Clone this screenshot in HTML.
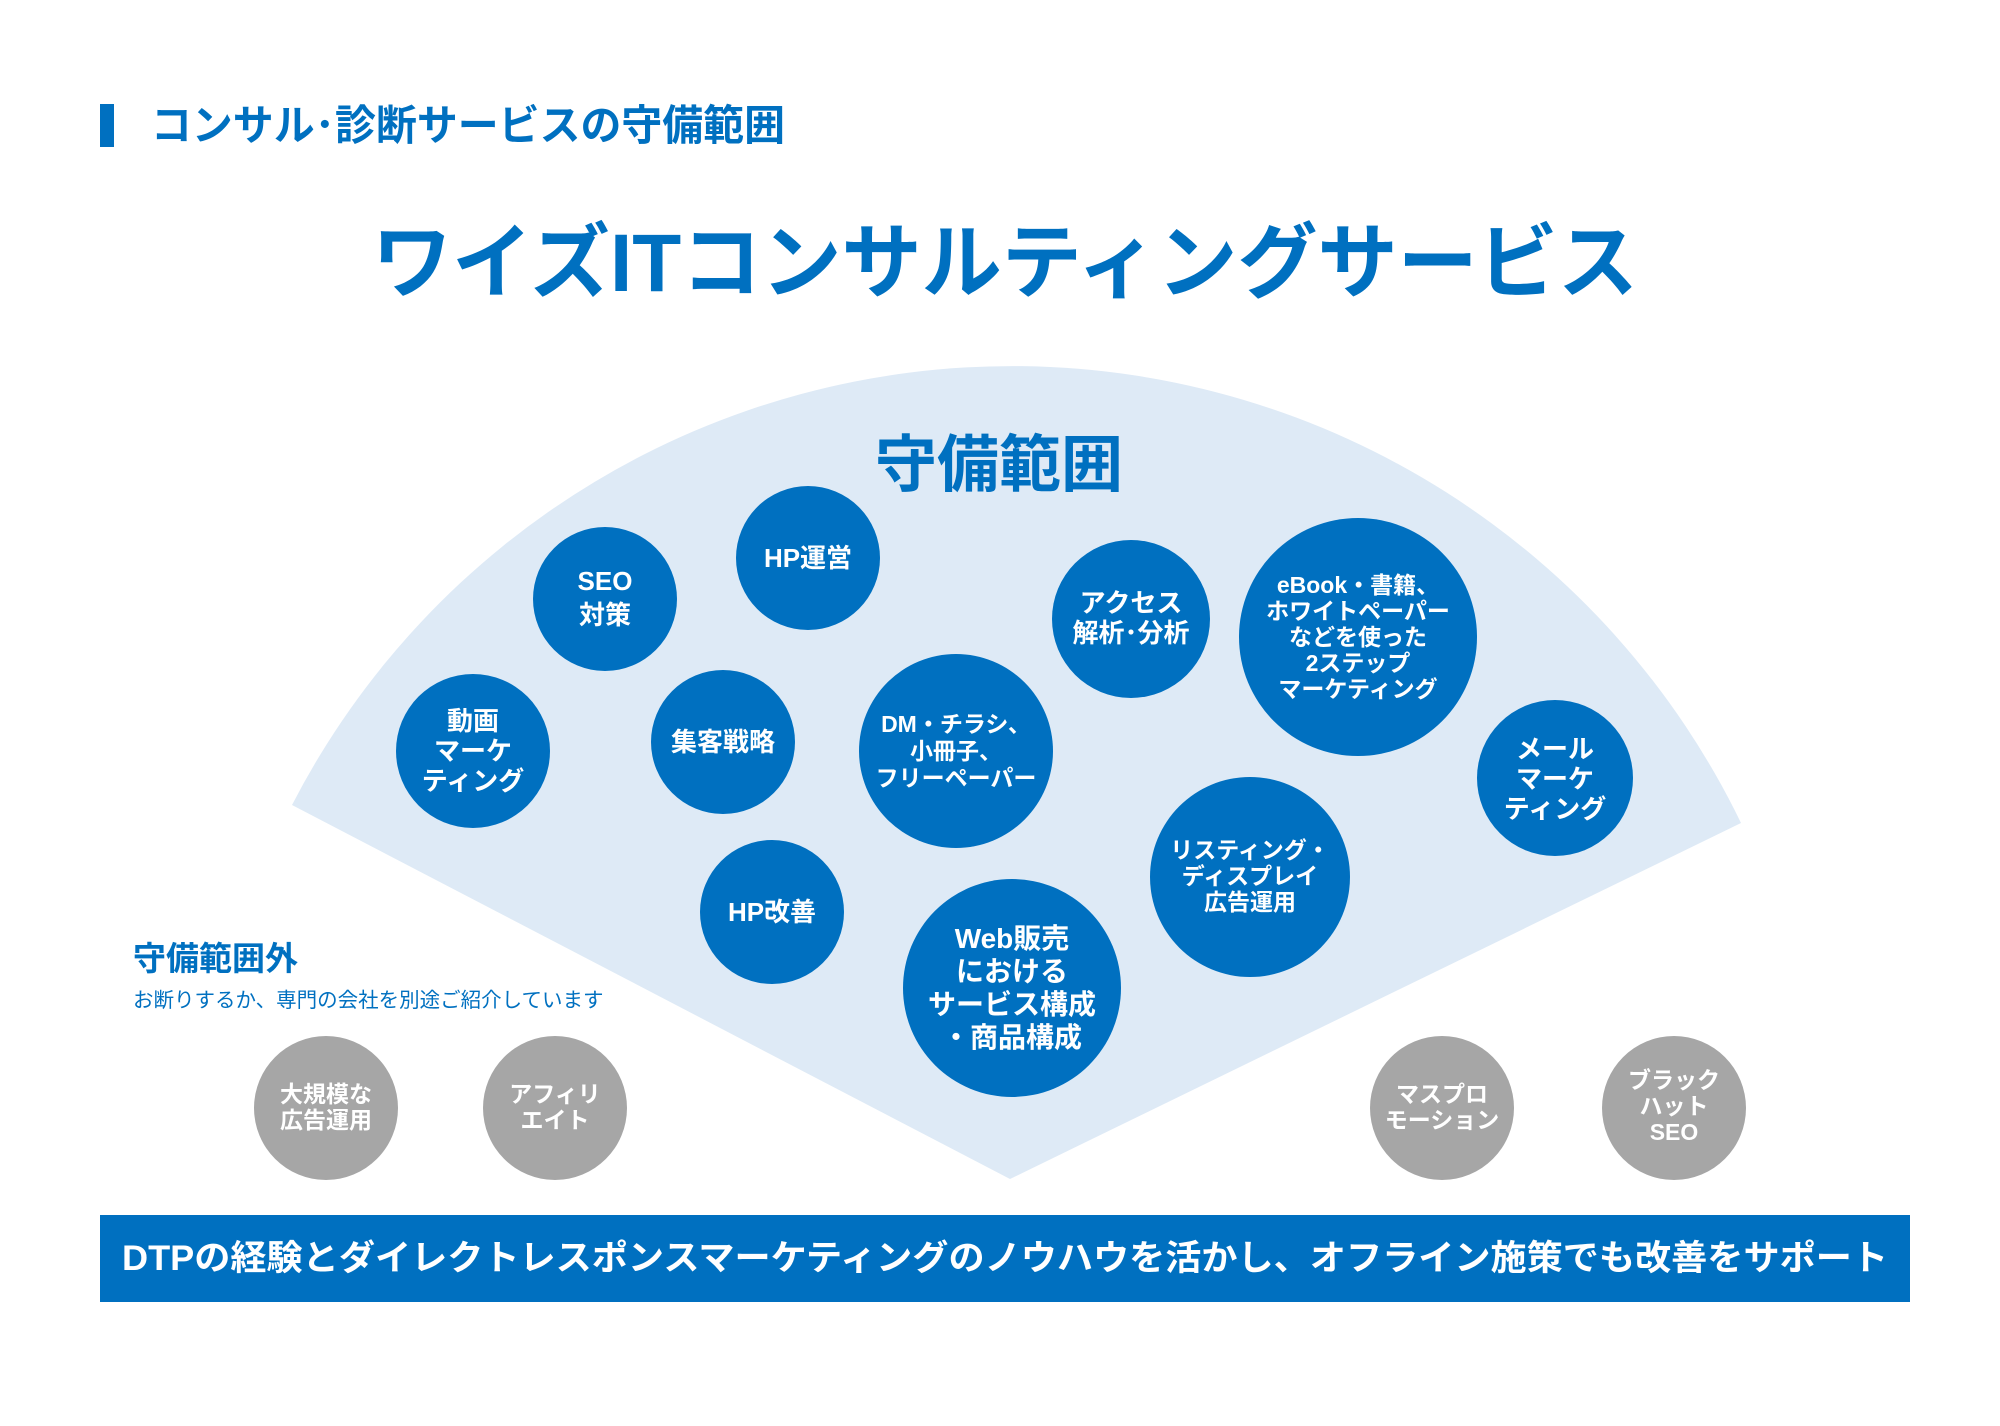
<!DOCTYPE html>
<html><head><meta charset="utf-8"><style>
html,body{margin:0;padding:0;background:#fff;}
svg{display:block;}
text{font-family:"Liberation Sans","Noto Sans CJK JP",sans-serif;font-weight:bold;}
</style></head><body>
<svg width="2000" height="1426" viewBox="0 0 2000 1426" xmlns="http://www.w3.org/2000/svg">
<rect x="0" y="0" width="2000" height="1426" fill="#fff"/>
<rect x="100" y="104" width="14" height="43" fill="#0070c0"/>
<text x="151" y="140" font-size="42" fill="#0070c0" textLength="634" lengthAdjust="spacingAndGlyphs">コンサル･診断サービスの守備範囲</text>
<text x="1005" y="291" font-size="82" fill="#0070c0" text-anchor="middle" textLength="1266" lengthAdjust="spacingAndGlyphs">ワイズITコンサルティングサービス</text>
<path d="M1010 1179 L292 805 A810 810 0 0 1 1741 823 Z" fill="#deeaf6"/>
<text x="999" y="486" font-size="62" fill="#0070c0" text-anchor="middle">守備範囲</text>
<g fill="#0070c0">
<circle cx="605" cy="599" r="72"/>
<circle cx="808" cy="558" r="72"/>
<circle cx="473" cy="751" r="77"/>
<circle cx="723" cy="742" r="72"/>
<circle cx="956" cy="751" r="97"/>
<circle cx="1131" cy="619" r="79"/>
<circle cx="1358" cy="637" r="119"/>
<circle cx="1555" cy="778" r="78"/>
<circle cx="1250" cy="877" r="100"/>
<circle cx="772" cy="912" r="72"/>
<circle cx="1012" cy="988" r="109"/>
</g>
<g fill="#a6a6a6">
<circle cx="326" cy="1108" r="72"/>
<circle cx="555" cy="1108" r="72"/>
<circle cx="1442" cy="1108" r="72"/>
<circle cx="1674" cy="1108" r="72"/>
</g>
<g fill="#fff" text-anchor="middle" font-size="26">
<text x="605" y="590">SEO</text><text x="605" y="624">対策</text>
<text x="808" y="567">HP運営</text>
<text x="473" y="730">動画</text><text x="473" y="760">マーケ</text><text x="473" y="790">ティング</text>
<text x="723" y="751">集客戦略</text>
<g font-size="23"><text x="956" y="732">DM・チラシ、</text><text x="956" y="759">小冊子、</text><text x="956" y="786">フリーペーパー</text></g>
<text x="1131" y="612">アクセス</text><text x="1131" y="642">解析･分析</text>
<g font-size="23"><text x="1358" y="593">eBook・書籍、</text><text x="1358" y="619">ホワイトペーパー</text><text x="1358" y="645">などを使った</text><text x="1358" y="671">2ステップ</text><text x="1358" y="697">マーケティング</text></g>
<text x="1555" y="758">メール</text><text x="1555" y="788">マーケ</text><text x="1555" y="818">ティング</text>
<g font-size="23"><text x="1250" y="858">リスティング・</text><text x="1250" y="884">ディスプレイ</text><text x="1250" y="910">広告運用</text></g>
<text x="772" y="921">HP改善</text>
<g font-size="28"><text x="1012" y="948">Web販売</text><text x="1012" y="981">における</text><text x="1012" y="1014">サービス構成</text><text x="1012" y="1047">・商品構成</text></g>
<g font-size="23"><text x="326" y="1102">大規模な</text><text x="326" y="1128">広告運用</text>
<text x="555" y="1102">アフィリ</text><text x="555" y="1128">エイト</text>
<text x="1442" y="1102">マスプロ</text><text x="1442" y="1128">モーション</text>
<text x="1674" y="1088">ブラック</text><text x="1674" y="1114">ハット</text><text x="1674" y="1140">SEO</text></g>
</g>
<text x="133" y="970" font-size="33" fill="#0070c0">守備範囲外</text>
<text x="133" y="1007" font-size="20.5" style="font-weight:normal" fill="#0070c0">お断りするか、専門の会社を別途ご紹介しています</text>
<rect x="100" y="1215" width="1810" height="87" fill="#0070c0"/>
<text x="1005" y="1270" font-size="35" fill="#fff" text-anchor="middle" textLength="1766" lengthAdjust="spacingAndGlyphs">DTPの経験とダイレクトレスポンスマーケティングのノウハウを活かし、オフライン施策でも改善をサポート</text>
</svg>
</body></html>
